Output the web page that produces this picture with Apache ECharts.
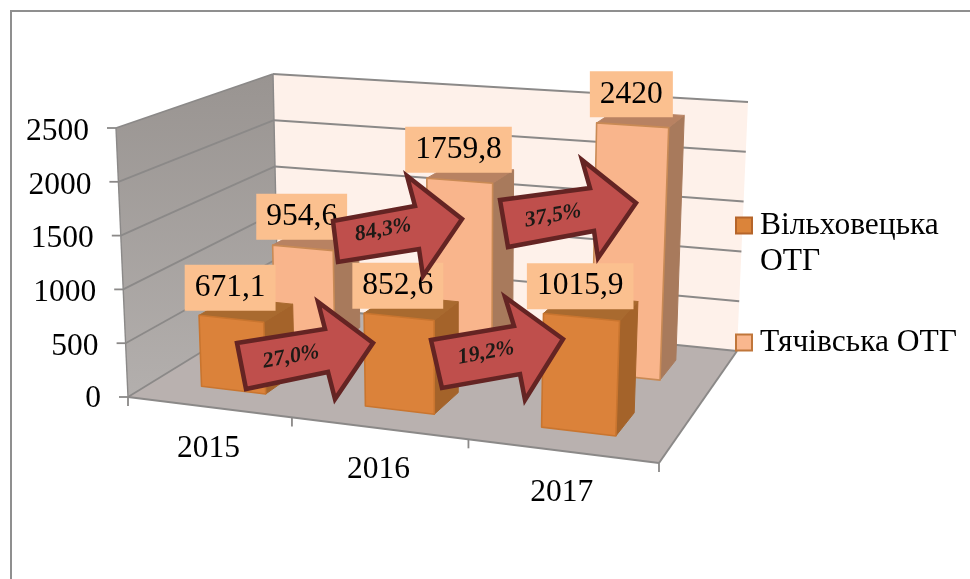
<!DOCTYPE html>
<html><head><meta charset="utf-8">
<style>html,body{margin:0;padding:0;background:#fff}#c{width:970px;height:579px}</style>
<script src="https://cdn.jsdelivr.net/npm/echarts@6/dist/echarts.min.js"></script>
</head><body><div id="c"></div>
<script>
const years = ['2015', '2016', '2017'];
const valueTicks = [0, 500, 1000, 1500, 2000, 2500];
const vilkhovetska = [671.1, 852.6, 1015.9];
const tiachivska = [954.6, 1759.8, 2420];
const vilkhovetskaLabels = ['671,1', '852,6', '1015,9'];
const tiachivskaLabels = ['954,6', '1759,8', '2420'];
const growthVilkhovetska = ['27,0%', '19,2%'];
const growthTiachivska = ['84,3%', '37,5%'];
const nameV = 'Вільховецька ОТГ';
const nameT = 'Тячівська ОТГ';

const SERIF = '"Liberation Serif","Times New Roman",serif';

// perspective calibration of the 3-D box
function homography(A, B, C, D) {
  const dx1 = B[0] - C[0], dx2 = D[0] - C[0], sx = A[0] - B[0] + C[0] - D[0];
  const dy1 = B[1] - C[1], dy2 = D[1] - C[1], sy = A[1] - B[1] + C[1] - D[1];
  const den = dx1 * dy2 - dx2 * dy1;
  const g = (sx * dy2 - dx2 * sy) / den, h = (dx1 * sy - sx * dy1) / den;
  const a = B[0] - A[0] + g * B[0], b = D[0] - A[0] + h * D[0];
  const d = B[1] - A[1] + g * B[1], e = D[1] - A[1] + h * D[1];
  return (s, t) => {
    const w = 1 + g * s + h * t;
    return [(a * s + b * t + A[0]) / w, (d * s + e * t + A[1]) / w];
  };
}
const floorH = homography([128, 397], [659, 463], [737, 351], [278, 305]);
const topH = homography([116, 128], [672, 170], [748, 102], [273, 74]);

function projector(params, api) {
  const g = params.coordSys;
  const bw = api.size([1, 0])[0];
  // cat: category index, du: offset in band widths, val: axis value, depth: 0 front .. 1 back
  return (cat, du, val, depth) => {
    const p = api.coord([cat, val]);
    const s = (p[0] + du * bw - g.x) / g.width;
    const v = (g.y + g.height - p[1]) / g.height;
    const f = floorH(s, depth), t = topH(s, depth);
    return [f[0] + (t[0] - f[0]) * v, f[1] + (t[1] - f[1]) * v];
  };
}
const poly = (points, fill, stroke, lineWidth) => ({
  type: 'polygon', shape: { points },
  style: { fill, stroke: stroke || 'none', lineWidth: lineWidth || 0, lineJoin: 'round' }
});
const line = (a, b, stroke, lineWidth) => ({
  type: 'line', shape: { x1: a[0], y1: a[1], x2: b[0], y2: b[1] },
  style: { stroke, lineWidth: lineWidth || 2 }
});
const GRID = '#8b8988';

function renderScene(params, api) {
  const P = projector(params, api);
  const maxV = valueTicks[valueTicks.length - 1];
  const L = 0, R = years.length - 1;
  const kids = [];
  kids.push(poly([P(L, -.5, 0, 1), P(R, .5, 0, 1), P(R, .5, maxV, 1), P(L, -.5, maxV, 1)], '#fef1ea'));
  kids.push(poly([P(L, -.5, 0, 0), P(L, -.5, 0, 1), P(L, -.5, maxV, 1), P(L, -.5, maxV, 0)], {
    type: 'linear', x: 0, y: 0, x2: 0, y2: 1,
    colorStops: [{ offset: 0, color: '#999491' }, { offset: 1, color: '#b3afad' }]
  }));
  kids.push(poly([P(L, -.5, 0, 0), P(R, .5, 0, 0), P(R, .5, 0, 1), P(L, -.5, 0, 1)], '#b9b1af'));
  valueTicks.forEach(v => {
    const a = P(L, -.5, v, 0), b = P(L, -.5, v, 1), c = P(R, .5, v, 1);
    kids.push(line(a, b, GRID, 1.8), line(b, c, GRID, 2));
    kids.push(line([a[0] - 9, a[1]], a, GRID, 1.8));
    kids.push({
      type: 'text',
      style: { text: String(v), x: a[0] - 27, y: a[1] + (v === 0 ? 1.5 : 3.5), align: 'right', verticalAlign: 'middle', font: '31.5px ' + SERIF, fill: '#000' }
    });
  });
  kids.push(line(P(L, -.5, 0, 1), P(L, -.5, maxV, 1), GRID, 1.4));
  kids.push(line(P(L, -.5, 0, 0), P(L, -.5, maxV, 0), GRID, 1.4));
  kids.push(line(P(R, .5, 0, 0), P(R, .5, 0, 1), GRID, 2));
  kids.push(line(P(L, -.5, 0, 0), P(R, .5, 0, 0), GRID, 2));
  for (let i = 0; i <= years.length; i++) {
    const a = i < years.length ? P(i, -.5, 0, 0) : P(R, .5, 0, 0);
    kids.push(line(a, [a[0], a[1] + 9], GRID, 1.8));
  }
  years.forEach((y, i) => {
    const a = P(i, 0, 0, 0);
    kids.push({
      type: 'text',
      style: { text: y, x: a[0], y: a[1] + 42, align: 'center', verticalAlign: 'middle', font: '31.5px ' + SERIF, fill: '#000' }
    });
  });
  return { type: 'group', children: kids };
}

function barRenderer(t0, t1, front, side, top, edge) {
  return (params, api) => {
    const P = projector(params, api);
    const i = api.value(0), v = api.value(1);
    const u0 = -.2, u1 = .2;
    return {
      type: 'group', children: [
        poly([P(i, u1, 0, t0), P(i, u1, 0, t1), P(i, u1, v, t1), P(i, u1, v, t0)], side, side, 1),
        poly([P(i, u0, v, t0), P(i, u1, v, t0), P(i, u1, v, t1), P(i, u0, v, t1)], top, top, 1),
        poly([P(i, u0, 0, t0), P(i, u1, 0, t0), P(i, u1, v, t0), P(i, u0, v, t0)], front, edge, 1.6)
      ]
    };
  };
}

function labelRenderer(labels, t0) {
  return (params, api) => {
    const P = projector(params, api);
    const i = api.value(0), v = api.value(1);
    const a = P(i, 0, v, t0);
    return {
      type: 'text',
      style: {
        text: labels[i], x: a[0] - 1, y: a[1] - 31, align: 'center', verticalAlign: 'middle',
        font: '31.5px ' + SERIF, fill: '#000', backgroundColor: '#fbc08f', padding: [7, 10, 7, 10]
      }
    };
  };
}

const rows = a => a.map((v, i) => [i, v]);
const ARROW = { fill: '#bf4f4c', stroke: '#642423', lineWidth: 4.5, lineJoin: 'miter', miterLimit: 10 };
function arrow(points, text, tx, ty) {
  return [
    { type: 'polygon', z: 100, silent: true, shape: { points }, style: ARROW },
    {
      type: 'text', z: 101, silent: true, x: tx, y: ty, rotation: 10.5 * Math.PI / 180, originX: 0, originY: 0,
      style: { text, x: 0, y: 0, align: 'center', verticalAlign: 'middle', font: 'italic bold 22px ' + SERIF, fill: '#1d1a16' }
    }
  ];
}

const chart = echarts.init(document.getElementById('c'), null, { renderer: 'canvas' });
chart.setOption({
  animation: false,
  backgroundColor: '#fff',
  grid: { left: 128, top: 128, width: 531, height: 269 },
  xAxis: { type: 'category', data: years, show: false },
  yAxis: { type: 'value', min: 0, max: 2500, interval: 500, show: false },
  legend: {
    orient: 'vertical', left: 730, top: 159, itemGap: 30, selectedMode: false,
    itemWidth: 16, itemHeight: 16, icon: 'rect',
    data: [nameV, nameT],
    formatter: n => n === nameV ? '\nВільховецька\nОТГ' : n,
    textStyle: { fontFamily: SERIF, fontSize: 31.5, color: '#000', lineHeight: 36, padding: [15, 0, 0, 3] }
  },
  graphic: [
    { type: 'polyline', silent: true, z: 90, shape: { points: [[11, 579], [11, 11], [970, 11]] }, style: { stroke: '#8f8f8f', lineWidth: 2, fill: 'none' } },
    ...arrow([[237, 343], [325, 329], [318, 302], [373, 343], [335, 399], [328, 372], [246, 389]], growthVilkhovetska[0], 291, 357),
    ...arrow([[431, 340], [514, 326], [505, 297], [563, 339], [525, 400], [520, 374], [442, 388]], growthVilkhovetska[1], 486, 353),
    ...arrow([[333, 221], [415, 206], [407, 176], [462, 219], [423, 276], [419, 249], [338, 262]], growthTiachivska[0], 383, 230),
    ...arrow([[500, 200], [590, 188], [582, 160], [636, 203], [598, 258], [594, 231], [508, 247]], growthTiachivska[1], 553, 216)
  ],
  series: [
    { type: 'custom', name: 'scene', z: 1, silent: true, data: [[0, 0]], encode: { x: 0, y: 1 }, renderItem: renderScene },
    {
      type: 'custom', name: nameT, z: 2, silent: true, data: rows(tiachivska), encode: { x: 0, y: 1 },
      itemStyle: { color: '#f9b78e', borderColor: '#c0763a', borderWidth: 1.5 },
      renderItem: barRenderer(.65, .85, '#f9b58c', '#a87a5c', '#b88262', '#c98a55')
    },
    {
      type: 'custom', name: nameV, z: 3, silent: true, data: rows(vilkhovetska), encode: { x: 0, y: 1 },
      itemStyle: { color: '#db843a', borderColor: '#b5652a', borderWidth: 1.5 },
      renderItem: barRenderer(.155, .35, '#db823a', '#a4632a', '#a96a2f', '#c9752f')
    },
    { type: 'custom', name: 'labelsT', z: 4, silent: true, data: rows(tiachivska), encode: { x: 0, y: 1 }, renderItem: labelRenderer(tiachivskaLabels, .65) },
    { type: 'custom', name: 'labelsV', z: 4, silent: true, data: rows(vilkhovetska), encode: { x: 0, y: 1 }, renderItem: labelRenderer(vilkhovetskaLabels, .155) }
  ]
});
</script></body></html>
